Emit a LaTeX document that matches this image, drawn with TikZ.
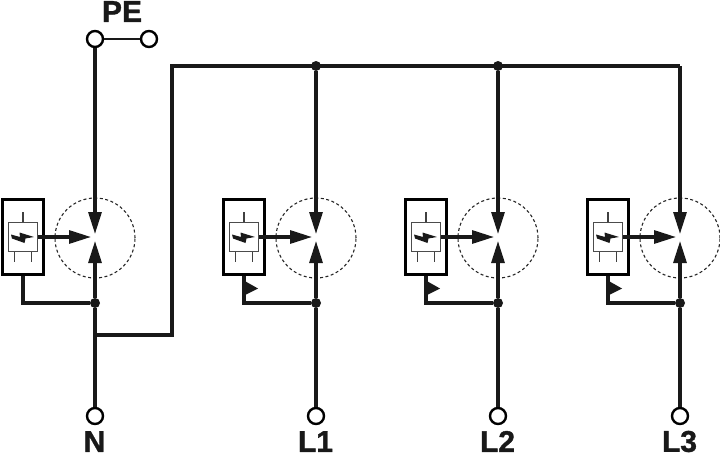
\documentclass[tikz,border=0pt]{standalone}
\usepackage{fontspec}
\setmainfont{Liberation Sans}[BoldFeatures={FakeBold=1.2}]
\usetikzlibrary{positioning,arrows.meta,shapes}
\tikzset{>={Triangle[length=22pt,width=13pt]}}

\begin{document}
\begin{tikzpicture}[
x=1pt, y=-1pt,
wire/.style={line width=3.1pt, black!90},
stub/.style={line width=1.2pt, black!75},
terminal/.style={circle, draw, line width=2.4pt, fill=white, minimum size=16pt, inner sep=0pt},
junction/.style={circle, fill=black!90, minimum size=10pt, inner sep=0pt},
module/.style={rectangle, draw, line width=2.1pt, minimum width=41pt, minimum height=75pt, inner sep=0pt},
arrester/.style={rectangle, draw=black!70, line width=1.2pt, minimum width=29pt, minimum height=29pt, inner sep=0pt},
zone/.style={circle, draw=black!85, dash pattern=on 3pt off 2.5pt, line width=1.1pt, minimum size=80pt, inner sep=0pt},
termlabel/.style={font=\bfseries\fontsize{30}{30}\selectfont, inner sep=0pt, black!90}
]
\useasboundingbox (0,0) rectangle (720,455);

\node (termPE) [terminal] at (95,39) {};
\node (termOpen) [terminal] at (149,39) {};
\node (labelPE) [termlabel] at (122,11.5) {PE};
\draw [wire, line width=2.4pt] (termPE) -- (termOpen);

\node (busL1) [junction] at (316,66) {};
\node (busL2) [junction] at (498,66) {};
\coordinate (busL3) at (680,66);
\coordinate (busCorner) at (172,66);
\coordinate (tapCorner) at (172,335);
\coordinate (tapN) at (95,335);
\draw [wire] (tapN) -- (tapCorner) -- (busCorner) -- (busL3);

\foreach \name/\x/\feed in {N/95/termPE, L1/316/busL1, L2/498/busL2, L3/680/busL3} {
  \node (zone\name) [zone] at (\x,238) {};
  \node (term\name) [terminal] at (\x,416) {};
  \node (label\name) [termlabel] at (\x-0.5,441.5) {\name};
  \node (dot\name) [junction] at (\x,303) {};
  \node (mod\name) [module] at (\x-72,237) {};
  \node (arr\name) [arrester] at (\x-72,237) {};
  \coordinate (tipTop\name) at (\x,234);
  \coordinate (tipBot\name) at (\x,241);
  \coordinate (tipIn\name) at (\x-4,237);

  \draw [wire, ->] (\feed) -- (tipTop\name);
  \draw [wire, ->] (dot\name) -- (tipBot\name);
  \draw [wire] (dot\name) -- (term\name);
  \draw [wire, ->] (arr\name.east) -- (tipIn\name);
  \draw [wire] (mod\name.south) |- (dot\name);

  \draw [stub] (arr\name.north) -- ++(0,-10);
  \draw [stub] (arr\name.south) ++(-8.5,0) -- ++(0,10);
  \draw [stub] (arr\name.south) ++(8.5,0) -- ++(0,10);
  \fill [black!90, shift={(\x-95,0)}] (11,234.5) -- (20,237) -- (19.5,232.5) -- (34,237) -- (25.5,238.5) -- (24.5,243) -- (12,238.5) -- cycle;
}

\foreach \name/\x in {L1/316, L2/498, L3/680} {
  \fill [black!90] (\x-73,280) -- (\x-58,288.5) -- (\x-73,296) -- cycle;
}
\end{tikzpicture}
\end{document}
